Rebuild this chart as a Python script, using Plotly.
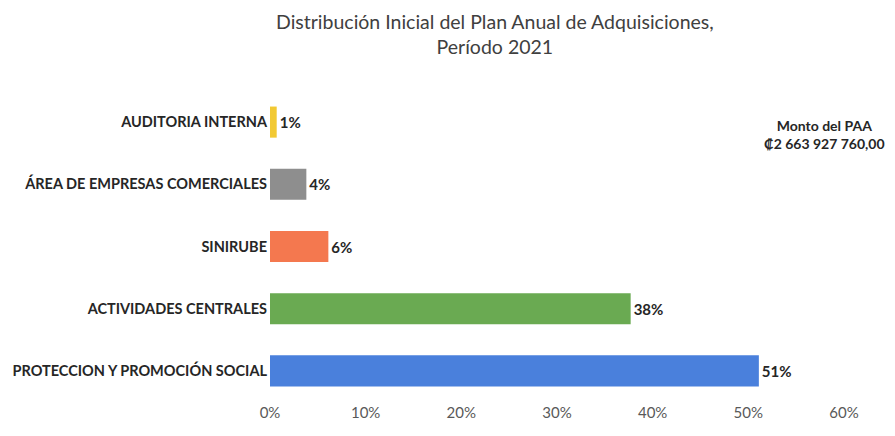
import plotly.graph_objects as go

categories = ["PROTECCION Y PROMOCIÓN SOCIAL", "ACTIVIDADES CENTRALES", "SINIRUBE",
              "ÁREA DE EMPRESAS COMERCIALES", "AUDITORIA INTERNA"]
values = [51.1, 37.7, 6.1, 3.8, 0.7]
colors = ["#4A80DC", "#6AAA52", "#F4784F", "#8E8E8E", "#F2C933"]
tick_vals = [0, 10, 20, 30, 40, 50, 60]
tick_text = ["0%", "10%", "20%", "30%", "40%", "50%", "60%"]
title_text = "Distribución Inicial del Plan Anual de Adquisiciones,<br>Período 2021"
note_text = "<b>Monto del PAA<br>₡2 663 927 760,00</b>"

FONT = "Lato, Open Sans, sans-serif"

# the page body adds an 8px offset on each side, so the figure is sized smaller
W, H = 879, 420
L, R, T, B = 262, 43, 83, 26
plot_w = W - L - R
plot_h = H - T - B

fig = go.Figure(go.Bar(
    y=categories, x=values, orientation="h",
    marker=dict(color=colors, line=dict(width=0)),
    texttemplate="<b>%{x:.0f}%</b>", textposition="outside",
    textfont=dict(size=15, color="#262626", family=FONT),
    cliponaxis=False,
))

fig.update_layout(
    width=W, height=H,
    margin=dict(l=L, r=R, t=T, b=B),
    paper_bgcolor="white", plot_bgcolor="white",
    bargap=0.5,
    showlegend=False,
    xaxis=dict(range=[0, 60], tickvals=tick_vals, ticktext=tick_text,
               showgrid=False, zeroline=False, showline=False, automargin=False,
               tickfont=dict(size=15, color="#595959", family=FONT), ticks=""),
    yaxis=dict(type="category", showgrid=False, zeroline=False, showline=False, ticks="",
               automargin=False, ticklabelstandoff=2,
               tickfont=dict(size=14.5, color="#262626", family=FONT),
               tickprefix="<b>", ticksuffix="</b>"),
    annotations=[
        dict(text=title_text, xref="paper", yref="paper",
             x=(487 - L) / plot_w, y=1 + (T - 26) / plot_h,
             xanchor="center", yanchor="middle", showarrow=False, align="center",
             font=dict(size=19.5, color="#404040", family=FONT)),
        dict(text=note_text, xref="paper", yref="paper",
             x=1 + (879 - (W - R)) / plot_w, y=1 - (126.5 - T) / plot_h,
             xanchor="right", yanchor="middle", showarrow=False, align="center",
             font=dict(size=14, color="#262626", family=FONT)),
    ],
)

fig.write_html("out.html")
